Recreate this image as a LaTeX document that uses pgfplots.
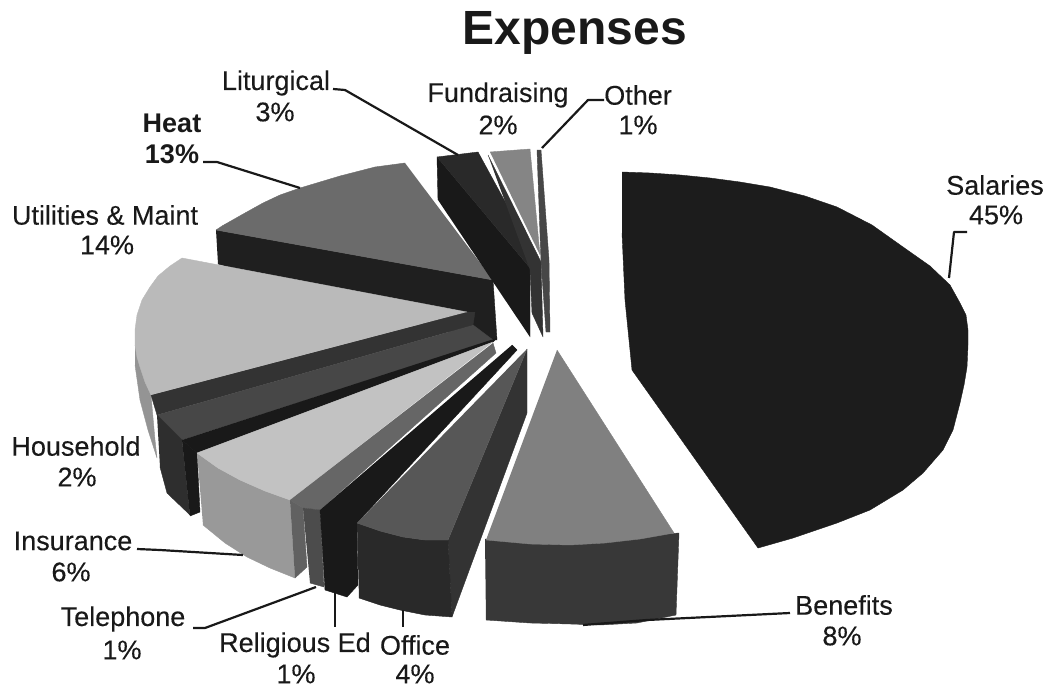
\documentclass[border=0pt]{standalone}
\usepackage{pgfplots}
\pgfplotsset{compat=1.18}
\usepackage{fontspec}
\setmainfont[UprightFeatures={FakeBold=0.25}]{Liberation Sans}
\definecolor{ink}{gray}{0.10}
\newcommand{\lab}[4][]{\node[font=\fontsize{27}{30}\selectfont,text=ink,inner sep=0pt,#1] at (axis cs:#2,#3) {#4};}
\begin{document}
\begin{tikzpicture}
\path[use as bounding box] (0,0) rectangle (1052pt,687pt);
\begin{axis}[at={(0,0)},anchor=south west,scale only axis,width=1052pt,height=687pt,
  xmin=0,xmax=1052,ymin=0,ymax=687,y dir=reverse,hide axis,clip=false,
  sl/.style={fill=black!#1,draw=black!#1,line width=0.4pt,line join=round,mark=none,forget plot},
  ld/.style={draw=ink,line width=2.2pt,mark=none,forget plot,line join=round}]
% Salaries
\addplot[sl=89] coordinates {(622,172)(650,173)(680,175)(710,178)(740,182)(770,187)(805,196)(837,207)(872,225)(903,247)(930,266)(950,285)(960,303)(966,315)(968,330)(968,345)(967,367)(964,385)(960,403)(953,430)(943,450)(923,473)(903,490)(870,510)(837,523)(793,538)(758,548)(695,459)(632,370)(625,300)(622,233)};
% Benefits
\addplot[sl=78] coordinates {(485,539)(570,543)(630,537)(679,533)(676,615)(637,623)(600,625)(570,624)(530,623)(486,620)};
\addplot[sl=50] coordinates {(557,350)(674,533)(640,539)(605,543)(570,545)(530,544)(486,540)};
% Heat
\addplot[sl=88] coordinates {(216,230)(493,280)(497,340)(469,337)(218,264)};
\addplot[sl=58] coordinates {(405,163)(375,167)(340,176)(300,188)(280,195)(263,203)(245,213)(222,226)(216,230)(493,280)};
% Utilities and household
\addplot[sl=42] coordinates {(135,345)(151,395)(155,440)(157,458)(148,430)(140,400)(135,365)};
\addplot[sl=80] coordinates {(467,312)(151,395)(157,415)(473,325)(475,312)};
\addplot[sl=72] coordinates {(157,415)(182,440)(493,340)(473,325)};
\addplot[sl=90] coordinates {(182,440)(197,453)(493,342)(497,338)};
\addplot[sl=82] coordinates {(157,415)(182,440)(190,515)(167,493)(160,467)};
\addplot[sl=90] coordinates {(182,440)(197,453)(200,512)(190,516)};
\addplot[sl=27] coordinates {(467,312)(182,258)(170,266)(158,276)(150,287)(142,300)(137,315)(135,330)(135,345)(137,357)(140,367)(145,382)(151,395)};
% Insurance
\addplot[sl=40] coordinates {(197,453)(218,468)(240,480)(265,491)(290,500)(295,578)(270,568)(247,557)(225,543)(203,525)};
\addplot[sl=62] coordinates {(290,500)(303,508)(307,567)(295,578)};
\addplot[sl=24] coordinates {(493,342)(197,453)(218,468)(240,480)(265,491)(290,500)};
% Telephone
\addplot[sl=60] coordinates {(493,343)(496,353)(320,510)(303,508)(290,500)};
\addplot[sl=70] coordinates {(303,508)(320,510)(324,587)(310,583)};
% Religious Ed
\addplot[sl=90] coordinates {(512,345)(517,350)(357,523)(358,585)(347,597)(325,590)(320,510)};
% Office
\addplot[sl=80] coordinates {(527,349)(527,413)(452,617)(448,540)};
\addplot[sl=84] coordinates {(357,523)(380,531)(403,537)(425,540)(448,540)(452,617)(425,615)(400,610)(380,605)(359,598)};
\addplot[sl=66] coordinates {(527,349)(448,540)(425,540)(403,537)(380,531)(357,523)};
% Liturgical
\addplot[sl=90] coordinates {(438,200)(437,157)(530,268)(530,337)};
\addplot[sl=84] coordinates {(437,157)(478,152)(538,262)(530,268)};
% Fundraising
\addplot[sl=80] coordinates {(488,155)(541,262)(543,337)(532,313)(530,270)};
\addplot[sl=48] coordinates {(490,152)(530,149)(540,255)};
% Other
\addplot[sl=72] coordinates {(537,150)(541,262)(546,332)(550,332)(549,260)(541,150)};
% Leader lines
\addplot[ld] coordinates {(333,89)(345,90)(458,155)};
\addplot[ld] coordinates {(203,162)(217,162)(300,188)};
\addplot[ld] coordinates {(604,100)(588,100)(542,148)};
\addplot[ld] coordinates {(967,232)(954,232)(949,278)};
\addplot[ld] coordinates {(790,613)(647,620)(583,625)};
\addplot[ld] coordinates {(137,549)(160,550)(243,555)};
\addplot[ld] coordinates {(193,628)(205,628)(316,587)};
\addplot[ld] coordinates {(335,593)(335,627)};
\addplot[ld] coordinates {(403,610)(403,627)};
% Text
\node[font=\fontsize{48}{54}\selectfont\bfseries,text=ink] at (axis cs:575,33) {Expenses};
\lab{995}{185}{Salaries}\lab{996}{215}{45\%}
\lab{844}{605}{Benefits}\lab{842}{636}{8\%}
\lab{415}{645}{Office}\lab{415}{674}{4\%}
\lab{295}{645}{Religious Ed}\lab{296}{674}{1\%}
\lab{123}{619}{Telephone}\lab{122}{650}{1\%}
\lab{73}{541}{Insurance}\lab{71}{572}{6\%}
\lab{76}{446}{Household}\lab{77}{477}{2\%}
\lab{105}{215}{Utilities \& Maint}\lab{107}{245}{14\%}
\lab[font=\fontsize{27}{30}\selectfont\bfseries]{172}{123}{Heat}\lab[font=\fontsize{27}{30}\selectfont\bfseries]{172}{154}{13\%}
\lab{276}{83}{Liturgical}\lab{275}{112}{3\%}
\lab{498}{95}{Fundraising}\lab{498}{125}{2\%}
\lab{638}{95}{Other}\lab{638}{125}{1\%}
\end{axis}
\end{tikzpicture}
\end{document}
